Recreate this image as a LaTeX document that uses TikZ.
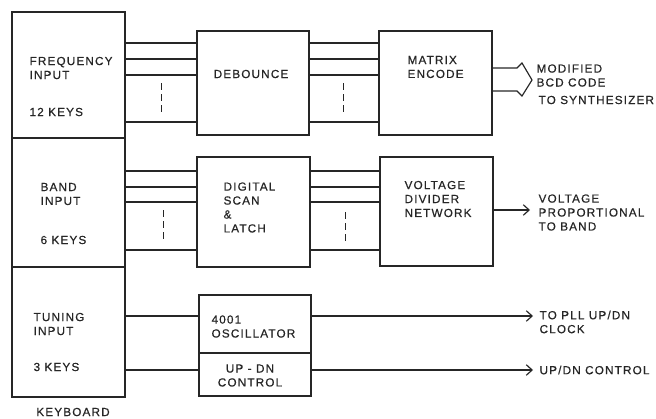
\documentclass[tikz,border=0pt]{standalone}
\usepackage{fontspec}
\setmainfont{Liberation Sans}[LetterSpace=10, FakeBold=0.6]
\usetikzlibrary{arrows.meta}
\begin{document}
\begin{tikzpicture}[x=0.03cm, y=-0.03cm, line width=1pt, draw=black!85,
    blk/.style 2 args={draw, inner sep=0pt, outer sep=0pt, minimum width=#1*0.03cm, minimum height=#2*0.03cm},
    lbl/.style={inner sep=0pt, align=left, text=black!85, font=\fontsize{10}{11.9}\selectfont},
    gap/.style={line width=0.8pt, dash pattern=on 6pt off 3.5pt},
    >={Straight Barb[length=5pt, width=9pt]}]
    \useasboundingbox (0,0) rectangle (656,418);
    % keyboard
    \node[blk={113}{126}] (freq) at (68.5,75) {};
    \node[blk={113}{129}] (band) at (68.5,202.5) {};
    \node[blk={113}{130}] (tune) at (68.5,332) {};
    \node[lbl, anchor=west] (freqlbl) at (29,68) {FREQUENCY\\INPUT};
    \node[lbl, anchor=west] (freqkeys) at (29,112) {12 KEYS};
    \node[lbl, anchor=west] (bandlbl) at (40,194) {BAND\\INPUT};
    \node[lbl, anchor=west] (bandkeys) at (40,240) {6 KEYS};
    \node[lbl, anchor=west] (tunelbl) at (33,324) {TUNING\\INPUT};
    \node[lbl, anchor=west] (tunekeys) at (33,367) {3 KEYS};
    \node[lbl] (kbd) at (73,412) {KEYBOARD};
    % blocks
    \node[blk={112}{104}] (deb) at (253,83) {};
    \node[blk={113}{104}] (mat) at (435.5,83) {};
    \node[blk={113}{110}] (dig) at (253.5,212) {};
    \node[blk={113}{109}] (vdn) at (436.5,211.5) {};
    \node[blk={112}{58}] (osc) at (255,324) {};
    \node[blk={112}{43}] (udc) at (255,374.5) {};
    \node[lbl] (deblbl) at (251,74) {DEBOUNCE};
    \node[lbl, anchor=west] (matlbl) at (407,67) {MATRIX\\ENCODE};
    \node[lbl, anchor=west] (diglbl) at (223,207.5) {DIGITAL\\SCAN\\\&\\LATCH};
    \node[lbl, anchor=west] (vdnlbl) at (404,199) {VOLTAGE\\DIVIDER\\NETWORK};
    \node[lbl, anchor=west] (osclbl) at (211,326.5) {4001\\OSCILLATOR};
    \node[lbl, align=center] (udclbl) at (250,375.5) {UP - DN\\CONTROL};
    % key lines
    \foreach \y in {43,59,75,122} {
        \draw (freq.east |- 0,\y) -- (deb.west |- 0,\y);
        \draw (deb.east |- 0,\y) -- (mat.west |- 0,\y);
    }
    \foreach \y in {171,187,202,250} {
        \draw (band.east |- 0,\y) -- (dig.west |- 0,\y);
        \draw (dig.east |- 0,\y) -- (vdn.west |- 0,\y);
    }
    \draw[gap] (161,83) -- (161,113);
    \draw[gap] (343,83) -- (343,113);
    \draw[gap] (163,210) -- (163,242);
    \draw[gap] (345,212) -- (345,242);
    \draw (tune.east |- 0,316) -- (osc.west |- 0,316);
    \draw (tune.east |- 0,370) -- (udc.west |- 0,370);
    % outputs
    \coordinate (bcd) at (532,80);
    \coordinate (vout) at (530,210);
    \coordinate (clk) at (533,316);
    \coordinate (ctl) at (533,370);
    \draw (mat.east |- 0,68) -- ++(25,0) -- ++(5,-5) -- (bcd) -- ++(-10,16) -- ++(-5,-5) -- (mat.east |- 0,91);
    \draw[->] (vdn.east |- vout) -- (vout);
    \draw[->] (osc.east |- clk) -- (clk);
    \draw[->] (udc.east |- ctl) -- (ctl);
    \node[lbl, anchor=west] (bcdlbl) at (536,75.5) {MODIFIED\\BCD CODE};
    \node[lbl, anchor=west] (synlbl) at (538,100) {TO SYNTHESIZER};
    \node[lbl, anchor=west] (vlbl) at (538,212.5) {VOLTAGE\\PROPORTIONAL\\TO BAND};
    \node[lbl, anchor=west] (clklbl) at (539,322) {TO PLL UP/DN\\CLOCK};
    \node[lbl, anchor=west] (ctllbl) at (539,370) {UP/DN CONTROL};
\end{tikzpicture}
\end{document}
